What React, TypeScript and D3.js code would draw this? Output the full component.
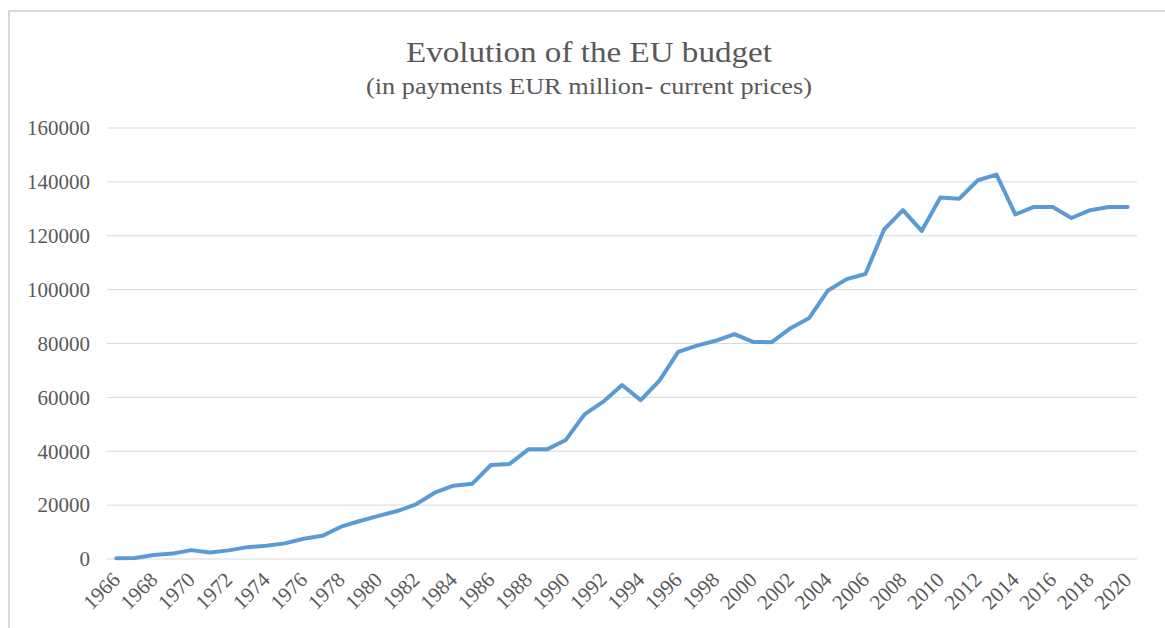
import React, { useEffect, useRef } from 'react';
import * as d3 from 'd3';

// EU budget payments, EUR million (current prices)
const years = [
  1966, 1967, 1968, 1969, 1970, 1971, 1972, 1973, 1974, 1975,
  1976, 1977, 1978, 1979, 1980, 1981, 1982, 1983, 1984, 1985,
  1986, 1987, 1988, 1989, 1990, 1991, 1992, 1993, 1994, 1995,
  1996, 1997, 1998, 1999, 2000, 2001, 2002, 2003, 2004, 2005,
  2006, 2007, 2008, 2009, 2010, 2011, 2012, 2013, 2014, 2015,
  2016, 2017, 2018, 2019, 2020,
];
const payments = [
  300, 350, 1500, 2000, 3300, 2400, 3200, 4400, 4900, 5800,
  7500, 8600, 12000, 14100, 16000, 17800, 20300, 24600, 27200, 27900,
  34900, 35300, 40700, 40700, 44200, 53700, 58400, 64600, 59000, 66200,
  76900, 79200, 81000, 83500, 80600, 80500, 85700, 89500, 99700, 103900,
  105800, 122400, 129500, 121800, 134200, 133700, 140600, 142700, 127900, 130700,
  130700, 126600, 129500, 130700, 130700,
];
const yTicks = [0, 20000, 40000, 60000, 80000, 100000, 120000, 140000, 160000];

const W = 1165;
const H = 628;
const FONT = '"Liberation Serif", "Times New Roman", serif';
const TEXT = '#595959';
const GRID = '#d9d9d9';

export default function App() {
  const svgRef = useRef<SVGSVGElement>(null);

  useEffect(() => {
    if (!svgRef.current) return;
    const svg = d3.select(svgRef.current);
    svg.selectAll('*').remove();

    const left = 107, right = 1137, top = 128, bottom = 559;

    const x = d3.scalePoint<number>().domain(years).range([left, right]).padding(0.5);
    const y = d3.scaleLinear().domain([0, 160000]).range([bottom, top]);

    // chart frame
    svg.append('rect')
      .attr('x', 9).attr('y', 11)
      .attr('width', W + 20).attr('height', H + 20)
      .attr('fill', 'white')
      .attr('stroke', GRID).attr('stroke-width', 2);

    // title (the source picture is a bit squeezed, so fix the widths)
    svg.append('text')
      .attr('x', 406).attr('y', 62)
      .attr('textLength', 366)
      .attr('lengthAdjust', 'spacingAndGlyphs')
      .attr('font-family', FONT).attr('font-size', 30)
      .attr('fill', TEXT)
      .text('Evolution of the EU budget');
    svg.append('text')
      .attr('x', 366).attr('y', 94)
      .attr('textLength', 446)
      .attr('lengthAdjust', 'spacingAndGlyphs')
      .attr('font-family', FONT).attr('font-size', 23)
      .attr('fill', TEXT)
      .text('(in payments EUR million- current prices)');

    // gridlines + y labels
    const yAxis = svg.append('g');
    yAxis.selectAll('line')
      .data(yTicks)
      .enter()
      .append('line')
      .attr('x1', left).attr('x2', right)
      .attr('y1', d => y(d)).attr('y2', d => y(d))
      .attr('stroke', GRID).attr('stroke-width', 1);
    yAxis.selectAll('text')
      .data(yTicks)
      .enter()
      .append('text')
      .attr('x', 90)
      .attr('y', d => y(d))
      .attr('dy', '0.35em')
      .attr('text-anchor', 'end')
      .attr('font-family', FONT).attr('font-size', 21)
      .attr('fill', TEXT)
      .text(d => String(d));

    // x labels, every other year, rotated
    svg.append('g')
      .selectAll('text')
      .data(years.filter((_, i) => i % 2 === 0))
      .enter()
      .append('text')
      .attr('transform', d => `translate(${(x(d) ?? 0) + 5},${581}) rotate(-45)`)
      .attr('text-anchor', 'end')
      .attr('font-family', FONT).attr('font-size', 21)
      .attr('fill', TEXT)
      .text(d => String(d));

    // the series
    const line = d3.line<number>()
      .x((_, i) => x(years[i]) ?? 0)
      .y(d => y(d));
    svg.append('path')
      .datum(payments)
      .attr('d', line)
      .attr('fill', 'none')
      .attr('stroke', '#5b9bd5')
      .attr('stroke-width', 4)
      .attr('stroke-linejoin', 'round')
      .attr('stroke-linecap', 'round');
  }, []);

  return (
    <div style={{ position: 'absolute', left: 0, top: 0, width: W, height: H, overflow: 'hidden', background: 'white' }}>
      <svg ref={svgRef} width={W} height={H} style={{ display: 'block' }} />
    </div>
  );
}
